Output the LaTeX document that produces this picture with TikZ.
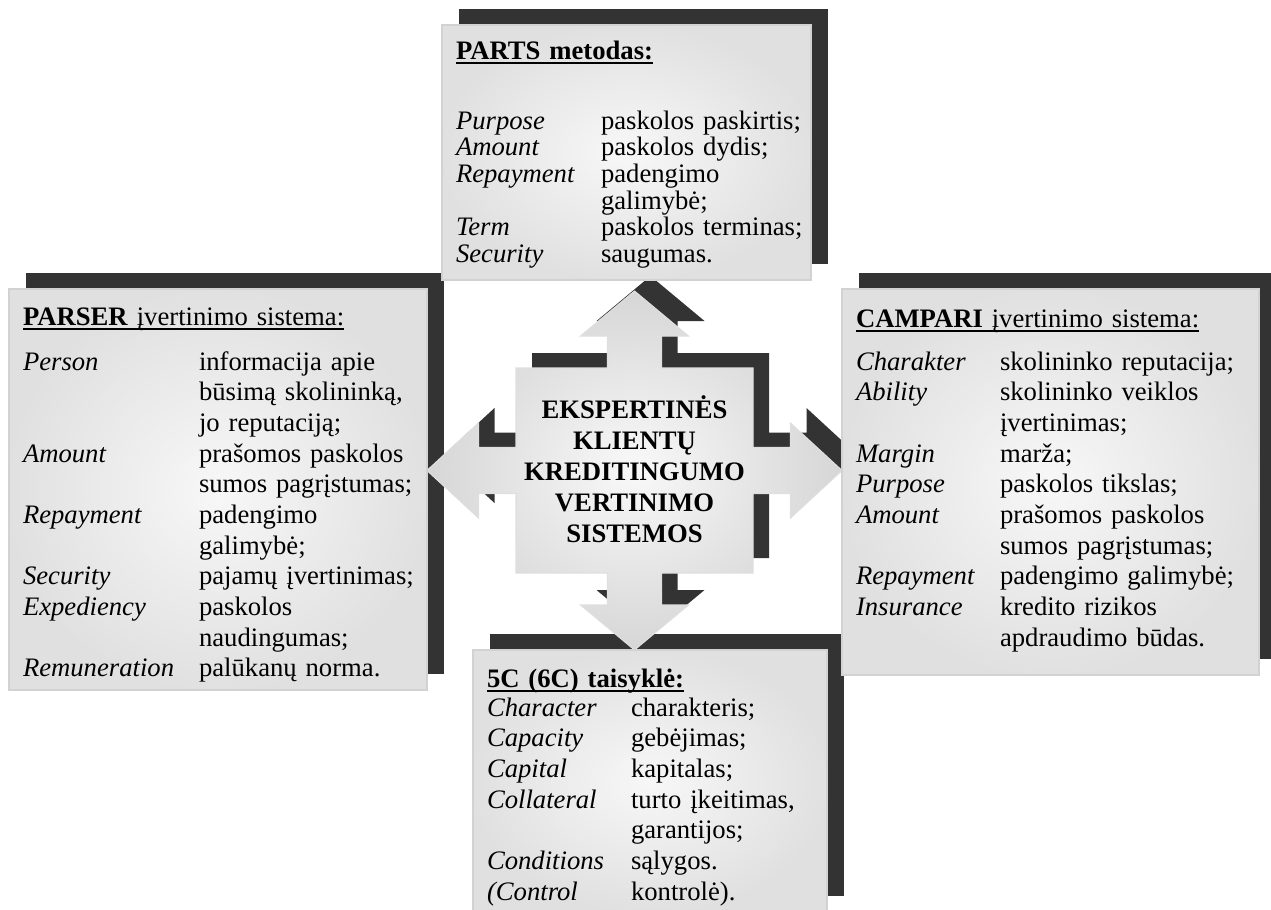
\documentclass[tikz,border=0pt]{standalone}
\usepackage{fontspec}
\setmainfont{Liberation Serif}
\pgfdeclarelayer{shadow}
\pgfdeclarelayer{back}
\pgfsetlayers{shadow,back,main}
% heading with a heavy underline
\newcommand{\headline}[1]{\setbox0\hbox{#1}\rlap{\rule[-3.6pt]{\wd0}{1.1pt}}\box0}
% outline of the four-way arrow, around its centre (y grows downwards)
\newcommand{\quadarrow}{(-118.5,-102.5) -- (-27,-102.5) -- (-27,-134.5) -- (-54,-134.5) -- (0,-179.5)
  -- (54,-134.5) -- (27,-134.5) -- (27,-102.5) -- (118.5,-102.5) -- (118.5,-23) -- (156,-23)
  -- (156,-47.5) -- (207.5,0) -- (156,47.5) -- (156,23) -- (118.5,23) -- (118.5,102.5) -- (27,102.5)
  -- (27,134.5) -- (54,134.5) -- (0,179.5) -- (-54,134.5) -- (-27,134.5) -- (-27,102.5)
  -- (-118.5,102.5) -- (-118.5,23) -- (-156,23) -- (-156,47.5) -- (-207.5,0) -- (-156,-47.5)
  -- (-156,-23) -- (-118.5,-23) -- cycle}
\begin{document}
\begin{tikzpicture}[x=0.75pt,y=-0.75pt,
  panel/.style={rectangle,anchor=north west,outer sep=0pt,inner xsep=10.5pt,inner ysep=0pt,
    draw=gray!35,line width=0.8pt,inner color=gray!6,outer color=gray!24,align=left,
    font=\fontsize{20}{23}\selectfont},
  shadowc/.style={fill=black!80}]
\useasboundingbox (0,0) rectangle (1271,910);
\node[panel,text width=255.75pt,text height=25.5pt,text depth=165.75pt,font=\fontsize{20}{20}\selectfont] (parts) at (442,25) {%
  \begin{tabular}[t]{@{}p{108.75pt}@{}l@{}}
  \multicolumn{2}{@{}l@{}}{\headline{\textbf{PARTS metodas:}}}\\[32.5pt]
  \textit{Purpose} & paskolos paskirtis;\\
  \textit{Amount} & paskolos dydis;\\
  \textit{Repayment} & padengimo\\
   & galimybė;\\
  \textit{Term} & paskolos terminas;\\
  \textit{Security} & saugumas.
  \end{tabular}};
\node[panel,text width=292.5pt,text height=27pt,text depth=273.75pt] (parser) at (9,289) {%
  \begin{tabular}[t]{@{}p{132pt}@{}l@{}}
  \multicolumn{2}{@{}l@{}}{\headline{\textbf{PARSER} įvertinimo sistema:}}\\[10.75pt]
  \textit{Person} & informacija apie\\
   & būsimą skolininką,\\
   & jo reputaciją;\\
  \textit{Amount} & prašomos paskolos\\
   & sumos pagrįstumas;\\
  \textit{Repayment} & padengimo\\
   & galimybė;\\
  \textit{Security} & pajamų įvertinimas;\\
  \textit{Expediency} & paskolos\\
   & naudingumas;\\
  \textit{Remuneration} & palūkanų norma.
  \end{tabular}};
\node[panel,text width=291.75pt,text height=28.5pt,text depth=261pt] (campari) at (842,289) {%
  \begin{tabular}[t]{@{}p{108pt}@{}l@{}}
  \multicolumn{2}{@{}l@{}}{\headline{\textbf{CAMPARI} įvertinimo sistema:}}\\[9.25pt]
  \textit{Charakter} & skolininko reputacija;\\
  \textit{Ability} & skolininko veiklos\\
   & įvertinimas;\\
  \textit{Margin} & marža;\\
  \textit{Purpose} & paskolos tikslas;\\
  \textit{Amount} & prašomos paskolos\\
   & sumos pagrįstumas;\\
  \textit{Repayment} & padengimo galimybė;\\
  \textit{Insurance} & kredito rizikos\\
   & apdraudimo būdas.
  \end{tabular}};
\node[panel,text width=244.5pt,text height=27.75pt,text depth=168.75pt] (rule) at (473,650) {%
  \begin{tabular}[t]{@{}p{108pt}@{}l@{}}
  \multicolumn{2}{@{}l@{}}{\headline{\textbf{5C (6C) taisyklė:}}}\\[-1.25pt]
  \textit{Character} & charakteris;\\
  \textit{Capacity} & gebėjimas;\\
  \textit{Capital} & kapitalas;\\
  \textit{Collateral} & turto įkeitimas,\\
   & garantijos;\\
  \textit{Conditions} & sąlygos.\\
  \textit{(Control} & kontrolė).
  \end{tabular}};
\node[inner sep=0pt,align=center,font=\bfseries\fontsize{20}{23.25}\selectfont] (ctr) at (634.5,469.5)
  {EKSPERTINĖS\\KLIENTŲ\\KREDITINGUMO\\VERTINIMO\\SISTEMOS};
\begin{pgfonlayer}{back}
\path[shift={(634.5,470.5)},draw=gray!25,line width=0.8pt,inner color=gray!5,outer color=gray!32] \quadarrow;
\end{pgfonlayer}
\begin{pgfonlayer}{shadow}
\foreach \b in {parts,parser,campari,rule}
  \fill[shadowc] ([shift={(17,-16)}]\b.north west) rectangle ([shift={(17,-16)}]\b.south east);
\fill[shadowc,shift={(634.5,470.5)},shift={(16,-15)}] \quadarrow;
\end{pgfonlayer}
\end{tikzpicture}
\end{document}
